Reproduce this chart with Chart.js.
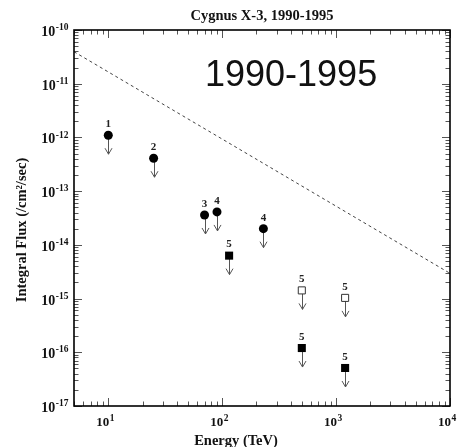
<!DOCTYPE html>
<html>
<head>
<meta charset="utf-8">
<script src="https://cdn.jsdelivr.net/npm/chart.js@4/dist/chart.umd.min.js"></script>
<style>
  html, body { margin: 0; padding: 0; background: #fff; }
  canvas { display: block; }
</style>
</head>
<body>
<canvas id="c" width="458" height="447"></canvas>
<script>
// Cygnus X-3 integral flux upper limits, 1990-1995 (energies in TeV, flux in /cm^2/sec)
const circleEnergy = [10, 25, 70, 90, 230];
const circleFlux   = [1.1e-12, 4.1e-13, 3.6e-14, 4.1e-14, 2.0e-14];
const circleRefs   = ['1', '2', '3', '4', '4'];

const filledEnergy = [115, 500, 1200];
const filledFlux   = [6.3e-15, 1.2e-16, 5.1e-17];
const filledRefs   = ['5', '5', '5'];

const openEnergy = [500, 1200];
const openFlux   = [1.42e-15, 1.03e-15];
const openRefs   = ['5', '5'];

// dashed reference spectrum, given by its two end points
const lineEnergy = [5, 10000];
const lineFlux   = [3.94e-11, 2.95e-15];

// labelled powers of ten on each axis
const xDecades = [1, 2, 3, 4];
const yDecades = [-17, -16, -15, -14, -13, -12, -11, -10];

const SERIF = '"Liberation Serif", "Times New Roman", serif';
const SANS = '"Liberation Sans", Arial, sans-serif';

const pts = (xs, ys) => xs.map((x, i) => ({ x: x, y: ys[i] }));

// draws "10" followed by a raised exponent
function drawPower(ctx, exp, x, y, baseSize, expSize, align) {
  ctx.save();
  ctx.fillStyle = '#111';
  ctx.textBaseline = 'alphabetic';
  ctx.font = 'bold ' + baseSize + 'px ' + SERIF;
  const bw = ctx.measureText('10').width;
  ctx.font = 'bold ' + expSize + 'px ' + SERIF;
  const es = String(exp).replace('-', '-');
  const ew = ctx.measureText(es).width;
  let left;
  if (align === 'right') left = x - bw - ew;
  else left = x - bw; // base ends at the tick
  ctx.font = 'bold ' + baseSize + 'px ' + SERIF;
  ctx.fillText('10', left, y);
  ctx.font = 'bold ' + expSize + 'px ' + SERIF;
  ctx.fillText(es, left + bw + 0.5, y - baseSize * 0.42);
  ctx.restore();
}

const framePlugin = {
  id: 'frame',
  beforeDatasetsDraw(chart) {
    const ctx = chart.ctx;
    const a = chart.chartArea;
    const xs = chart.scales.x, ys = chart.scales.y;

    // inward ticks on all four sides
    ctx.save();
    ctx.strokeStyle = '#555';
    ctx.lineWidth = 1;
    ctx.beginPath();
    for (let d = 0; d <= 4; d++) {
      for (let m = 1; m <= 9; m++) {
        const v = m * Math.pow(10, d);
        if (v < xs.min * 0.999 || v > xs.max * 1.001) continue;
        const px = Math.round(xs.getPixelForValue(v)) + 0.5;
        const len = m === 1 ? 8 : 4.5;
        ctx.moveTo(px, a.bottom); ctx.lineTo(px, a.bottom - len);
        ctx.moveTo(px, a.top); ctx.lineTo(px, a.top + len);
      }
    }
    for (let d = -17; d <= -10; d++) {
      for (let m = 1; m <= 9; m++) {
        const v = m * Math.pow(10, d);
        if (v < ys.min * 0.999 || v > ys.max * 1.001) continue;
        const py = Math.round(ys.getPixelForValue(v)) + 0.5;
        const len = m === 1 ? 8 : 4.5;
        ctx.moveTo(a.left, py); ctx.lineTo(a.left + len, py);
        ctx.moveTo(a.right, py); ctx.lineTo(a.right - len, py);
      }
    }
    ctx.stroke();
    ctx.restore();

    // upper-limit arrows below each marker
    ctx.save();
    ctx.strokeStyle = '#555';
    ctx.lineWidth = 1;
    [0, 1, 2].forEach(i => {
      chart.getDatasetMeta(i).data.forEach(el => {
        const x = Math.round(el.x) + 0.5, y = el.y;
        ctx.beginPath();
        ctx.moveTo(x, y);
        ctx.lineTo(x, y + 19);
        ctx.moveTo(x - 3.5, y + 13);
        ctx.lineTo(x, y + 19);
        ctx.lineTo(x + 3.5, y + 13);
        ctx.stroke();
      });
    });
    ctx.restore();
  },
  afterDraw(chart) {
    const ctx = chart.ctx;
    const a = chart.chartArea;
    const xs = chart.scales.x, ys = chart.scales.y;

    // plot frame
    ctx.save();
    ctx.strokeStyle = '#000';
    ctx.lineWidth = 1.6;
    ctx.strokeRect(a.left, a.top, a.right - a.left, a.bottom - a.top);
    ctx.restore();

    // axis tick labels
    yDecades.forEach(e => {
      const py = ys.getPixelForValue(Math.pow(10, e));
      drawPower(ctx, e, 68, py + 6, 14, 9.5, 'right');
    });
    xDecades.forEach(e => {
      const px = xs.getPixelForValue(Math.pow(10, e));
      drawPower(ctx, e, px + 1, 426, 13, 9.5, 'base');
    });

    // reference numbers above the markers
    const refs = [circleRefs, filledRefs, openRefs];
    ctx.save();
    ctx.fillStyle = '#222';
    ctx.font = 'bold 11px ' + SERIF;
    ctx.textAlign = 'center';
    ctx.textBaseline = 'middle';
    [0, 1, 2].forEach(i => {
      chart.getDatasetMeta(i).data.forEach((el, j) => {
        ctx.fillText(refs[i][j], el.x, el.y - 11);
      });
    });
    ctx.restore();

    // titles
    ctx.save();
    ctx.fillStyle = '#111';
    ctx.textAlign = 'center';
    ctx.textBaseline = 'alphabetic';
    ctx.font = 'bold 14.5px ' + SERIF;
    ctx.fillText('Cygnus X-3, 1990-1995', (a.left + a.right) / 2, 20);
    ctx.fillText('Energy (TeV)', 236, 445);
    ctx.translate(26, 230);
    ctx.rotate(-Math.PI / 2);
    ctx.fillText('Integral Flux (/cm\u00B2/sec)', 0, 0);
    ctx.restore();

    ctx.save();
    ctx.fillStyle = '#111';
    ctx.font = '36px ' + SANS;
    ctx.textAlign = 'left';
    ctx.textBaseline = 'alphabetic';
    ctx.fillText('1990-1995', 205, 86);
    ctx.restore();
  }
};

new Chart(document.getElementById('c'), {
  type: 'scatter',
  data: {
    datasets: [
      {
        data: pts(circleEnergy, circleFlux),
        pointStyle: 'circle',
        pointRadius: 4.5,
        backgroundColor: '#000',
        borderColor: '#000',
        borderWidth: 0
      },
      {
        data: pts(filledEnergy, filledFlux),
        pointStyle: 'rect',
        pointRadius: 5.7,
        backgroundColor: '#000',
        borderColor: '#000',
        borderWidth: 0
      },
      {
        data: pts(openEnergy, openFlux),
        pointStyle: 'rect',
        pointRadius: 5,
        backgroundColor: '#fff',
        borderColor: '#333',
        borderWidth: 1
      },
      {
        type: 'line',
        data: pts(lineEnergy, lineFlux),
        borderColor: '#444',
        borderWidth: 1,
        borderDash: [3, 3],
        pointRadius: 0,
        fill: false
      }
    ]
  },
  options: {
    responsive: false,
    animation: false,
    devicePixelRatio: 1,
    layout: { padding: { left: 74, top: 30, right: 8, bottom: 41 } },
    plugins: { legend: { display: false }, tooltip: { enabled: false } },
    scales: {
      x: { type: 'logarithmic', min: 5, max: 10000, display: false },
      y: { type: 'logarithmic', min: 1e-17, max: 1e-10, display: false }
    }
  },
  plugins: [framePlugin]
});
</script>
</body>
</html>
